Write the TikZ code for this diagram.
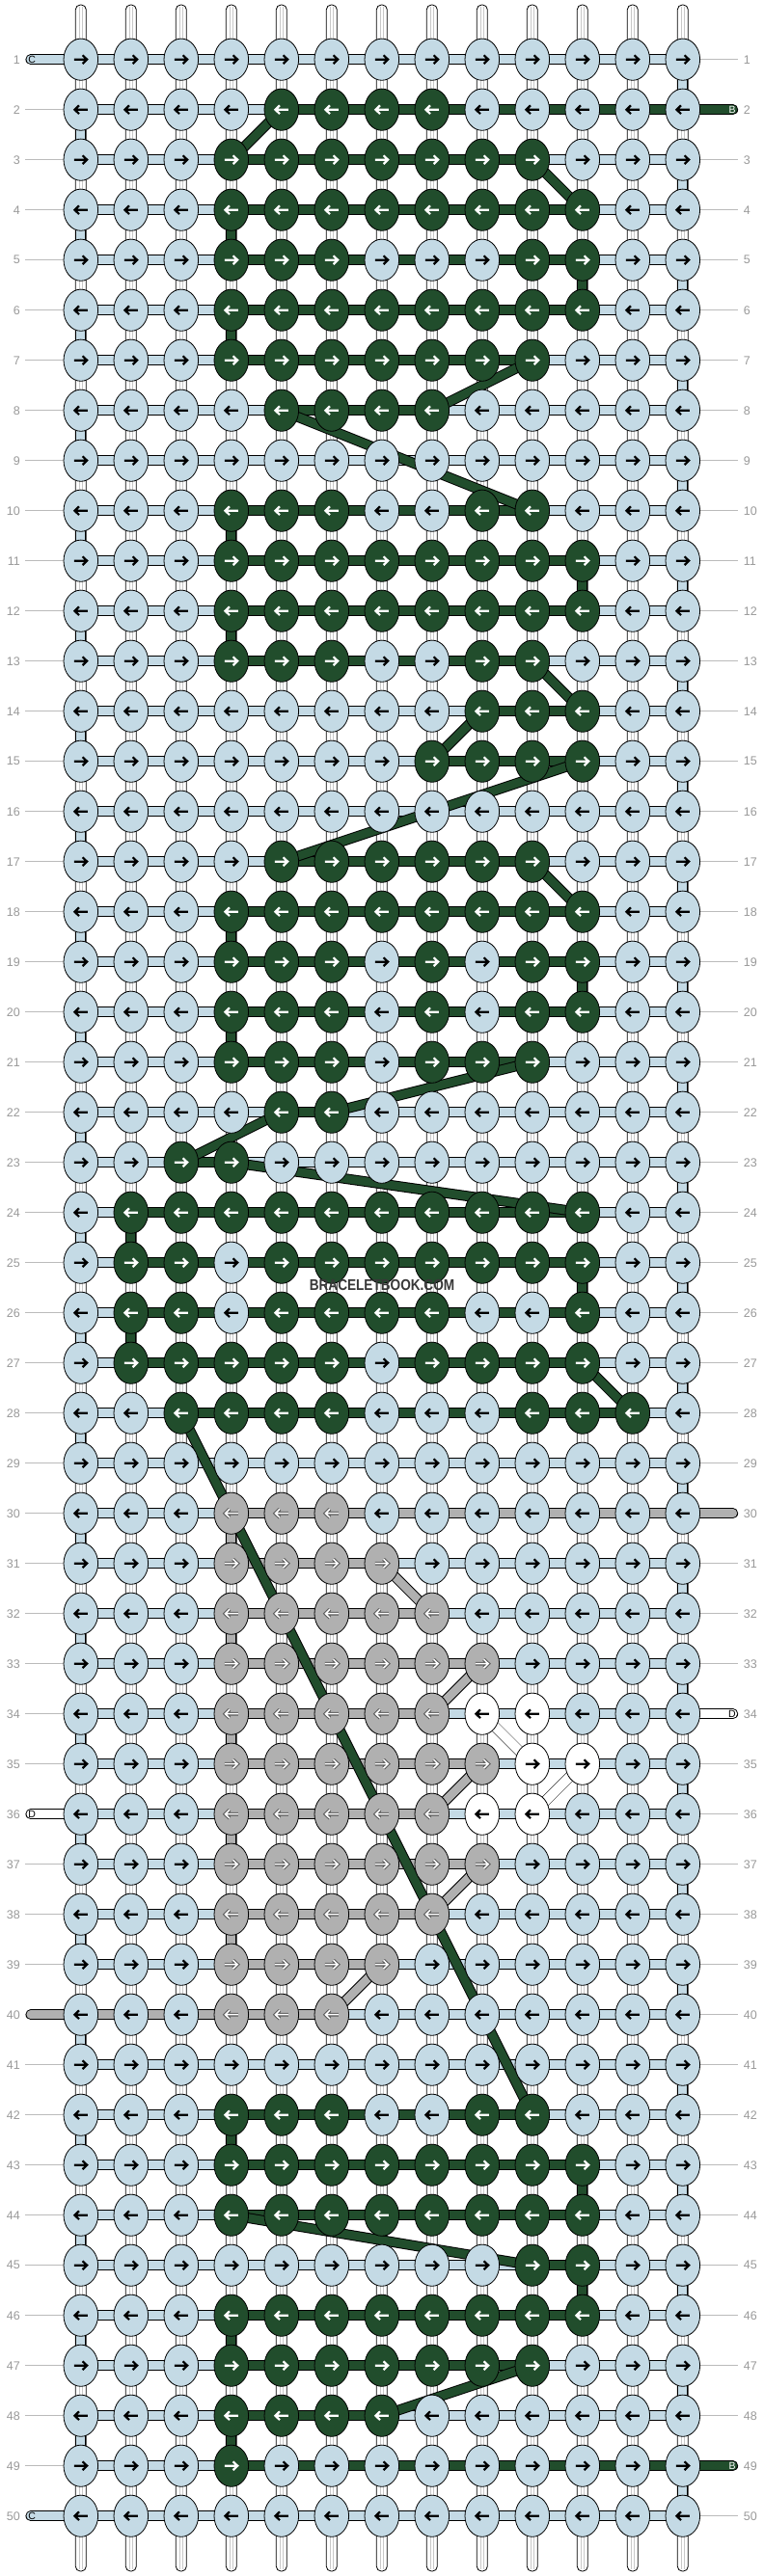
\documentclass[tikz,border=0pt]{standalone}
\usepackage{fontspec}
\usepackage{graphicx}
\setmainfont{Liberation Sans}
\definecolor{lb}{HTML}{C4DAE5}
\definecolor{dg}{HTML}{214D2C}
\definecolor{gy}{HTML}{B0B0B0}
\definecolor{lblc}{HTML}{999999}
\definecolor{linec}{HTML}{BBBBBB}
\definecolor{warpin}{HTML}{C8C8C8}
\def\dgname{dg}
\def\gyname{gy}
\begin{document}
\begin{tikzpicture}[x=52pt,y=-52pt,
  strand/.style={draw=black, double=#1, double distance=8.7pt, line width=1pt},
  stub/.style={strand=#1, line cap=round},
  thinstrand/.style={draw=black, double=white, double distance=9.9pt, line width=0.45pt},
  rowlbl/.style={text=lblc, font=\fontsize{12.5pt}{14pt}\selectfont, inner sep=0pt},
  stubtxt/.style={font=\fontsize{10.5pt}{12pt}\selectfont, inner sep=0pt},
  tick/.style={draw=linec, line width=0.9pt},
  arw/.pic={\draw[line join=miter, line cap=butt] (-7pt,0) -- (6pt,0) (1.8pt,-4.4pt) -- (6.4pt,0) -- (1.8pt,4.4pt);}
]
\fill[white] (-0.61154,-0.18654) rectangle (14.6192,51.1981);
\useasboundingbox (-0.61154,-0.18654) rectangle (14.6192,51.1981);

% grid coordinates
\foreach \r in {1,...,50}{
  \foreach \c in {1,...,13}{\coordinate (p-\r-\c) at (\c,\r);}
  \coordinate (L-\r) at (0,\r);
  \coordinate (R-\r) at (14,\r);
  \coordinate (LL-\r) at (-0.108,\r);
  \coordinate (RR-\r) at (14.1,\r);
}

% warp strings
\foreach \c in {1,...,13}{
  \filldraw[fill=white, draw=black, line width=0.8pt, rounded corners=5pt] ({\c-0.1058},-0.0904) rectangle ({\c+0.1058},51.102);
  \draw[warpin, line width=0.6pt] ({\c-0.035},-0.06) -- ({\c-0.035},51.07) ({\c+0.035},-0.06) -- ({\c+0.035},51.07);
}

% row labels and ticks
\foreach \r in {1,...,50}{
  \node[rowlbl, anchor=east] (ll-\r) at (-0.208,\r) {\r};
  \node[rowlbl, anchor=west] (rl-\r) at (14.21,\r) {\r};
}
\foreach \r in {2,...,35,37,38,39,41,42,...,49} \draw[tick] (LL-\r) -- (p-\r-1);
\foreach \r in {1,3,4,...,29,31,32,33,35,36,...,48,50} \draw[tick] (p-\r-13) -- (RR-\r);

% light blue string
\foreach \r in {1,...,50} \draw[strand=lb] (p-\r-1) -- (p-\r-13);
\foreach \r in {1,3,...,49}{\pgfmathtruncatemacro\rn{\r+1}\draw[strand=lb] (p-\r-13) -- (p-\rn-13);}
\foreach \r in {2,4,...,48}{\pgfmathtruncatemacro\rn{\r+1}\draw[strand=lb] (p-\r-1) -- (p-\rn-1);}
\draw[stub=lb] (L-1) -- (p-1-1);
\draw[stub=lb] (L-50) -- (p-50-1);

% white string stubs
\draw[stub=white] (R-34) -- (p-34-13);
\draw[stub=white] (L-36) -- (p-36-1);

% green string
\draw[stub=dg] (R-2) -- (p-2-5);
\draw[stub=dg] (p-49-4) -- (R-49);
\foreach \r/\a/\b in {3/4/10, 4/4/11, 5/4/11, 6/4/11, 7/4/10, 8/5/8, 10/4/10, 11/4/11, 12/4/11, 13/4/10, 14/9/11, 15/8/11, 17/5/10, 18/4/11, 19/4/11, 20/4/11, 21/4/10, 22/5/6, 23/3/4, 24/2/11, 25/2/11, 26/2/11, 27/2/11, 28/3/12, 42/4/10, 43/4/11, 44/4/11, 45/10/11, 46/4/11, 47/4/10, 48/4/7}
  \draw[strand=dg] (p-\r-\a) -- (p-\r-\b);
\foreach \c/\r in {4/4, 11/5, 4/6, 4/10, 11/11, 4/12, 4/18, 11/19, 4/20, 2/24, 11/25, 2/26, 4/42, 11/43, 11/45, 4/46, 4/48}
  {\pgfmathtruncatemacro\rn{\r+1}\draw[strand=dg] (p-\r-\c) -- (p-\rn-\c);}

% gray string
\draw[stub=gy] (R-30) -- (p-30-4);
\draw[stub=gy] (L-40) -- (p-40-6);
\foreach \r/\a/\b in {31/4/7, 32/4/8, 33/4/9, 34/4/8, 35/4/9, 36/4/8, 37/4/9, 38/4/8, 39/4/7}
  \draw[strand=gy] (p-\r-\a) -- (p-\r-\b);
\foreach \c/\r in {4/30, 4/32, 4/34, 4/36, 4/38}
  {\pgfmathtruncatemacro\rn{\r+1}\draw[strand=gy] (p-\r-\c) -- (p-\rn-\c);}

% diagonals
\foreach \ra/\ca/\rb/\cb in {31/7/32/8, 33/9/34/8, 35/9/36/8, 37/9/38/8, 39/7/40/6}
  \draw[strand=gy] (p-\ra-\ca) -- (p-\rb-\cb);
\foreach \ra/\ca/\rb/\cb in {34/9/35/10, 35/11/36/10}
  \draw[thinstrand] (p-\ra-\ca) -- (p-\rb-\cb);
\foreach \ra/\ca/\rb/\cb in {2/5/3/4, 3/10/4/11, 7/10/8/8, 8/5/10/10, 13/10/14/11, 14/9/15/8, 15/11/17/5, 17/10/18/11, 21/10/22/6, 22/5/23/3, 23/4/24/11, 27/11/28/12, 28/3/42/10, 44/4/45/10, 47/10/48/7}
  \draw[strand=dg] (p-\ra-\ca) -- (p-\rb-\cb);

% knot colours
\foreach \r/\cs in {2/{5,6,7,8}, 3/{4,...,10}, 4/{4,...,11}, 5/{4,5,6,10,11}, 6/{4,...,11}, 7/{4,...,10}, 8/{5,6,7,8}, 10/{4,5,6,9,10}, 11/{4,...,11}, 12/{4,...,11}, 13/{4,5,6,9,10}, 14/{9,10,11}, 15/{8,9,10,11}, 17/{5,...,10}, 18/{4,...,11}, 19/{4,5,6,8,10,11}, 20/{4,5,6,8,10,11}, 21/{4,5,6,8,9,10}, 22/{5,6}, 23/{3,4}, 24/{2,...,11}, 25/{2,3,5,6,7,8,9,10,11}, 26/{2,3,5,6,7,8,11}, 27/{2,3,4,5,6,8,9,10,11}, 28/{3,4,5,6,10,11,12}, 42/{4,5,6,9,10}, 43/{4,...,11}, 44/{4,...,11}, 45/{10,11}, 46/{4,...,11}, 47/{4,...,10}, 48/{4,5,6,7}, 49/{4}}
  {\foreach \c in \cs {\expandafter\xdef\csname kc-\r-\c\endcsname{dg}}}
\foreach \r/\cs in {30/{4,5,6}, 31/{4,...,7}, 32/{4,...,8}, 33/{4,...,9}, 34/{4,...,8}, 35/{4,...,9}, 36/{4,...,8}, 37/{4,...,9}, 38/{4,...,8}, 39/{4,...,7}, 40/{4,5,6}}
  {\foreach \c in \cs {\expandafter\xdef\csname kc-\r-\c\endcsname{gy}}}
\foreach \r/\cs in {34/{9,10}, 35/{10,11}, 36/{9,10}}
  {\foreach \c in \cs {\expandafter\xdef\csname kc-\r-\c\endcsname{white}}}

% knots
\foreach \r in {1,...,50}{
  \pgfmathsetmacro\dir{ifthenelse(mod(\r,2)==1,1,-1)}
  \foreach \c in {1,...,13}{
    \ifcsname kc-\r-\c\endcsname\edef\kc{\csname kc-\r-\c\endcsname}\else\def\kc{lb}\fi
    \filldraw[fill=\kc, draw=black, line width=0.8pt] (p-\r-\c) ellipse [x radius=17.8pt, y radius=21.6pt];
    \ifx\kc\gyname
      \pic[black!65, line width=3.6pt, xscale=\dir] at (p-\r-\c) {arw};
      \pic[white, line width=1.5pt, xscale=\dir] at (p-\r-\c) {arw};
    \else
      \ifx\kc\dgname\def\ac{white}\else\def\ac{black}\fi
      \pic[\ac, line width=2.2pt, xscale=\dir] at (p-\r-\c) {arw};
    \fi
  }
}

% stub letters
\node[stubtxt] (sc1) at (0.025,1) {C};
\node[stubtxt] (sc50) at (0.025,50) {C};
\node[stubtxt, text=white] (sb2) at (13.985,2) {B};
\node[stubtxt, text=white] (sb49) at (13.985,49) {B};
\node[stubtxt] (sd34) at (13.985,34) {D};
\node[stubtxt] (sd36) at (0.025,36) {D};

% watermark
\node[font=\bfseries\fontsize{16pt}{18pt}\selectfont, text=black!78, inner sep=0pt] (wm) at (7.004,25.45) {\scalebox{0.85}[1]{BRACELETBOOK.COM}};
\end{tikzpicture}
\end{document}
